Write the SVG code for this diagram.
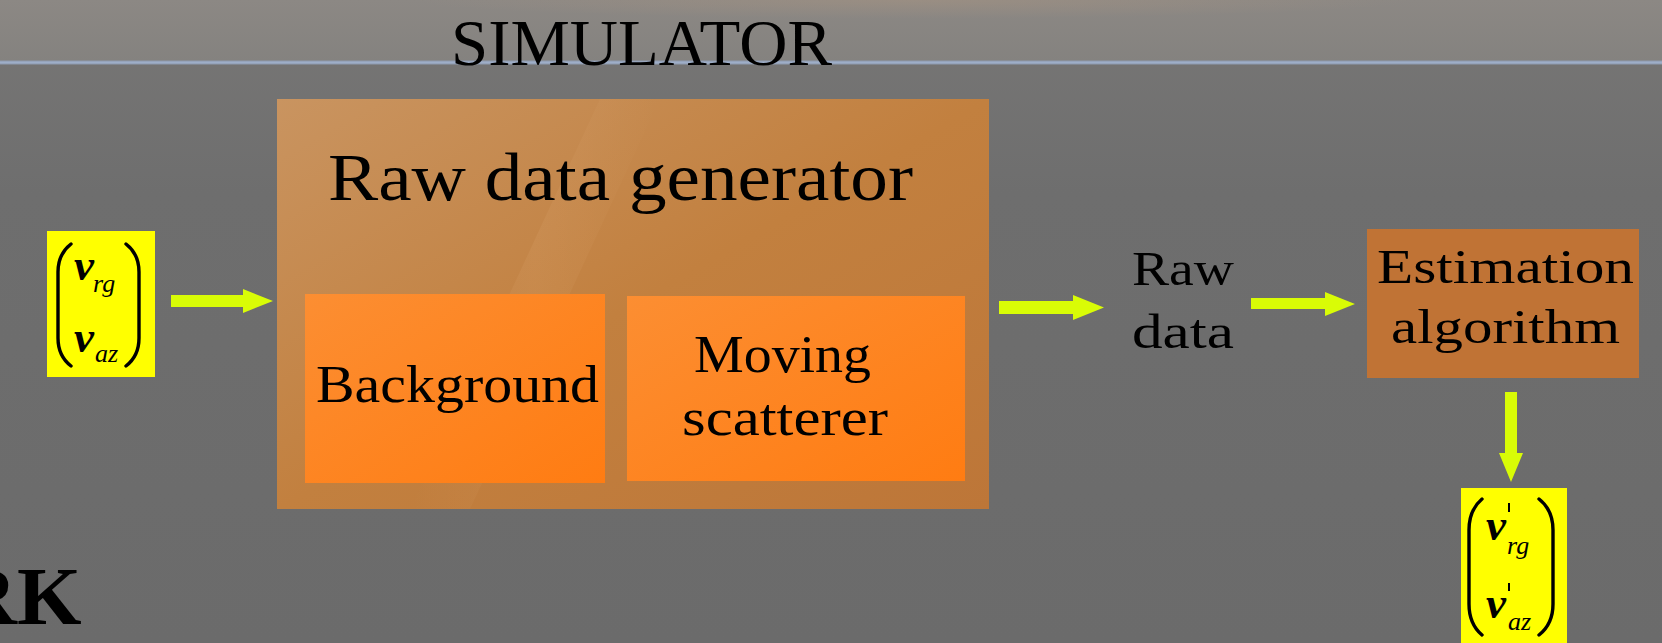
<svg xmlns="http://www.w3.org/2000/svg" width="1662" height="643" viewBox="0 0 1662 643">
<defs>
  <linearGradient id="bgTop" x1="0" y1="0" x2="0" y2="1">
    <stop offset="0" stop-color="#8c8884"/>
    <stop offset="1" stop-color="#84827f"/>
  </linearGradient>
  <radialGradient id="glowTop" cx="0.55" cy="0" r="0.3">
    <stop offset="0" stop-color="#a39282" stop-opacity="0.6"/>
    <stop offset="1" stop-color="#a39282" stop-opacity="0"/>
  </radialGradient>
  <linearGradient id="bgMain" x1="0" y1="0" x2="0" y2="1">
    <stop offset="0" stop-color="#787776"/>
    <stop offset="0.3" stop-color="#6e6e6e"/>
    <stop offset="1" stop-color="#6b6b6b"/>
  </linearGradient>
  <linearGradient id="outerFill" x1="0" y1="0" x2="1" y2="1">
    <stop offset="0" stop-color="#c99460"/>
    <stop offset="0.5" stop-color="#c2803f"/>
    <stop offset="1" stop-color="#bd7638"/>
  </linearGradient>
  <linearGradient id="innerFill" x1="0" y1="0" x2="1" y2="1">
    <stop offset="0" stop-color="#fc8e32"/>
    <stop offset="1" stop-color="#ff7c12"/>
  </linearGradient>
  <linearGradient id="streak" x1="0" y1="0" x2="1" y2="0">
    <stop offset="0" stop-color="#ffd0a0" stop-opacity="0"/>
    <stop offset="0.5" stop-color="#ffd0a0" stop-opacity="0.08"/>
    <stop offset="1" stop-color="#ffd0a0" stop-opacity="0"/>
  </linearGradient>
  <style>
    .serif { font-family: "Liberation Serif", "Times New Roman", serif; fill: #000; }
    .lbl { font-size: 52px; }
    .mid { font-size: 48px; }
    .vec { font-family: "Liberation Serif", serif; font-weight: bold; font-style: italic; font-size: 45px; fill: #000; }
    .sub { font-family: "Liberation Serif", serif; font-style: italic; font-size: 26px; fill: #000; }
    .paren { fill: none; stroke: #000; stroke-width: 3.4; stroke-linecap: round; }
    .prime { stroke: #000; stroke-width: 2; }
    .arrow { fill: #d9fc06; }
    .yellow { fill: #ffff00; }
  </style>
</defs>

<!-- background -->
<rect x="0" y="0" width="1662" height="643" fill="url(#bgMain)"/>
<rect x="0" y="0" width="1662" height="62" fill="url(#bgTop)"/>
<rect x="0" y="0" width="1662" height="62" fill="url(#glowTop)"/>
<rect x="0" y="60.5" width="1662" height="4" fill="#8e9aae"/>
<rect x="0" y="61.5" width="1662" height="2" fill="#9eaec8"/>

<text class="serif" x="451" y="65" font-size="65" textLength="381" lengthAdjust="spacingAndGlyphs">SIMULATOR</text>
<text class="serif" x="-43" y="624" font-size="83" font-weight="bold">RK</text>

<!-- input vector -->
<g id="input-vector">
  <rect class="yellow" x="47" y="231" width="108" height="146"/>
  <path class="paren" d="M71,244 Q58,254 58,272 L58,338 Q58,356 71,366"/>
  <path class="paren" d="M126,244 Q139,254 139,272 L139,338 Q139,356 126,366"/>
  <text class="vec" x="74" y="280">v</text>
  <text class="sub" x="93" y="292">rg</text>
  <text class="vec" x="74" y="352">v</text>
  <text class="sub" x="95" y="362">az</text>
</g>

<!-- raw data generator -->
<g id="raw-data-generator">
  <rect x="277" y="99" width="712" height="410" fill="url(#outerFill)"/>
  <polygon points="600,99 660,99 470,509 410,509" fill="url(#streak)"/>
  <text class="serif" x="328" y="200" font-size="68" textLength="585" lengthAdjust="spacingAndGlyphs">Raw data generator</text>
</g>

<g id="background">
  <rect x="305" y="294" width="300" height="189" fill="url(#innerFill)"/>
  <text class="serif lbl" x="316" y="402" textLength="283" lengthAdjust="spacingAndGlyphs">Background</text>
</g>

<g id="moving-scatterer">
  <rect x="627" y="296" width="338" height="185" fill="url(#innerFill)"/>
  <text class="serif lbl" x="694" y="372" textLength="177" lengthAdjust="spacingAndGlyphs">Moving</text>
  <text class="serif lbl" x="682" y="435" textLength="206" lengthAdjust="spacingAndGlyphs">scatterer</text>
</g>

<g id="raw-data">
  <text class="serif mid" x="1132" y="285" textLength="102" lengthAdjust="spacingAndGlyphs">Raw</text>
  <text class="serif mid" x="1132" y="348" textLength="102" lengthAdjust="spacingAndGlyphs">data</text>
</g>

<g id="estimation-algorithm">
  <rect x="1367" y="229" width="272" height="149" fill="#c07335"/>
  <text class="serif mid" x="1377" y="283" textLength="257" lengthAdjust="spacingAndGlyphs">Estimation</text>
  <text class="serif mid" x="1391" y="343" textLength="229" lengthAdjust="spacingAndGlyphs">algorithm</text>
</g>

<!-- output vector -->
<g id="output-vector">
  <rect class="yellow" x="1461" y="488" width="106" height="160"/>
  <path class="paren" d="M1482,499 Q1469,510 1469,530 L1469,604 Q1469,624 1482,635"/>
  <path class="paren" d="M1539,499 Q1553,510 1553,530 L1553,604 Q1553,624 1539,635"/>
  <line class="prime" x1="1509" y1="503" x2="1509" y2="512"/>
  <text class="vec" x="1486" y="540">v</text>
  <text class="sub" x="1507" y="554">rg</text>
  <line class="prime" x1="1509" y1="583" x2="1509" y2="591"/>
  <text class="vec" x="1486" y="618">v</text>
  <text class="sub" x="1508" y="630">az</text>
</g>

<!-- connectors -->
<g id="connectors">
  <polygon class="arrow" points="171,295 243,295 243,289 273,301 243,313 243,307 171,307"/>
  <polygon class="arrow" points="999,301 1073,301 1073,295 1104,307.5 1073,320 1073,314 999,314"/>
  <polygon class="arrow" points="1251,298 1325,298 1325,292 1355,304 1325,316 1325,309 1251,309"/>
  <polygon class="arrow" points="1505,392 1517,392 1517,453 1523,453 1511,482 1499,453 1505,453"/>
</g>
</svg>
